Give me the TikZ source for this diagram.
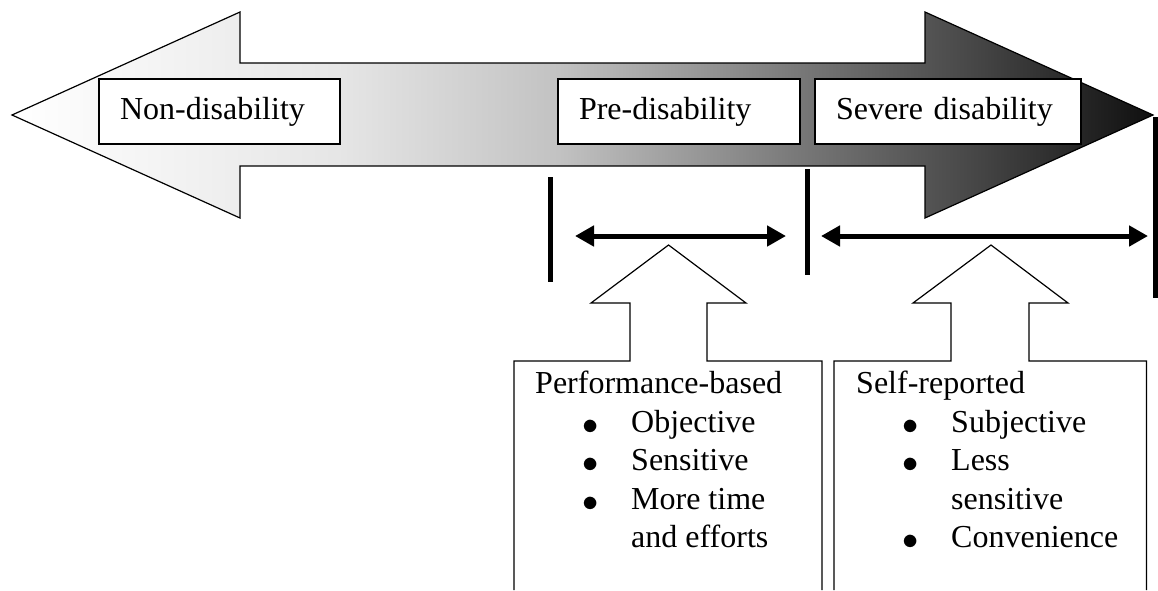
\documentclass[tikz,border=0pt]{standalone}
\usepackage{fontspec}
\setmainfont{Liberation Serif}
\usetikzlibrary{arrows.meta}
\pgfdeclarehorizontalshading{scalegrad}{100bp}{color(0bp)=(white); color(25bp)=(white);
  color(39.4bp)=(black!10); color(49bp)=(black!24); color(59.5bp)=(black!53);
  color(67.4bp)=(black!73); color(75bp)=(black!94); color(100bp)=(black!94)}
\newcommand{\blt}{\makebox[16pt]{\raisebox{-2.4pt}{\scalebox{1.3}{$\bullet$}}}}

\begin{document}
\begin{tikzpicture}[
  x=1pt, y=-1pt,
  font=\fontsize{32}{38.5}\selectfont,
  B/.style = {draw=black, fill=white, line width=1.2pt,
              minimum height=65pt, inner xsep=21pt, inner ysep=0pt, align=left},
  bar/.style = {line width=5pt},
  rng/.style = {{Triangle[length=19pt,width=20pt]}-{Triangle[length=19pt,width=20pt]},
                line width=5pt},
  callout/.style = {draw=black, line width=1.2pt},
  T/.style = {anchor=base west, inner sep=0pt}
]
\useasboundingbox (0,0) rectangle (1158,590);

% Big two-headed arrow with gradient
\shadedraw[shading=scalegrad, line width=1.2pt]
  (12,115) -- (240,12) -- (240,63) -- (925,63) -- (925,12) -- (1153,115)
  -- (925,218) -- (925,166) -- (240,166) -- (240,218) -- cycle;

% Stage labels
\node[B, text width=199pt] (nondis) at (219.5,111.5) {Non-disability};
\node[B, text width=200pt] (predis) at (679,111.5)   {Pre-disability};
\node[B, text width=224pt] (severe) at (948,111.5)   {Severe disability};

% Boundary bars
\coordinate (b1t) at (550,177);  \coordinate (b1b) at (550,282);
\coordinate (b2t) at (807,169);  \coordinate (b2b) at (807,275);
\coordinate (b3t) at (1155,117); \coordinate (b3b) at (1155,298);
\draw[bar] (b1t) -- (b1b);
\draw[bar] (b2t) -- (b2b);
\draw[bar] (b3t) -- (b3b);

% Ranges
\coordinate (r1a) at (575,236); \coordinate (r1b) at (786,236);
\coordinate (r2a) at (821,236); \coordinate (r2b) at (1148,236);
\draw[rng] (r1a) -- (r1b);
\draw[rng] (r2a) -- (r2b);

% Up-arrow callouts
\draw[callout] (514,590) -- (514,361) -- (630,361) -- (630,303) -- (591,303)
  -- (668.5,245) -- (746,303) -- (707,303) -- (707,361) -- (822,361) -- (822,590);
\draw[callout] (834,590) -- (834,361) -- (951,361) -- (951,303) -- (913,303)
  -- (991,245) -- (1068,303) -- (1029,303) -- (1029,361) -- (1146.5,361) -- (1146.5,590);

% Callout texts
\node[T] (perf) at (535,393) {Performance-based};
\node[T] (perflist) at (582,432) {\begin{tabular}[t]{@{}l@{\hspace{33pt}}l@{}}
  \blt & Objective\\
  \blt & Sensitive\\
  \blt & More time\\
       & and efforts
\end{tabular}};

\node[T] (self) at (856,393) {Self-reported};
\node[T] (selflist) at (902,432) {\begin{tabular}[t]{@{}l@{\hspace{33pt}}l@{}}
  \blt & Subjective\\
  \blt & Less\\
       & sensitive\\
  \blt & Convenience
\end{tabular}};

\end{tikzpicture}
\end{document}
